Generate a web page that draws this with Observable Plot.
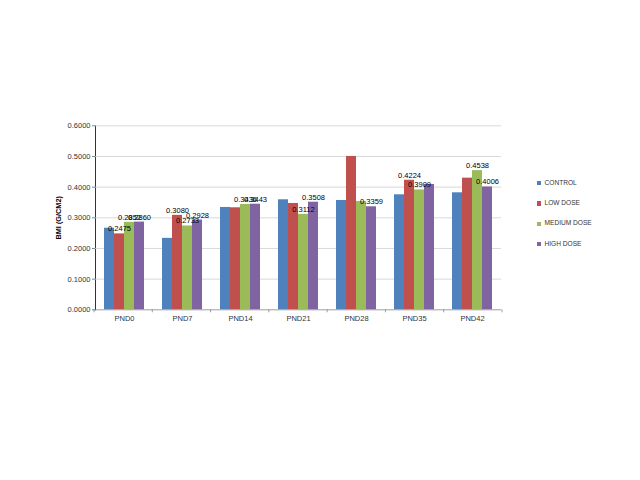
<!DOCTYPE html>
<html>
<head>
<meta charset="utf-8">
<script src="https://cdn.jsdelivr.net/npm/d3@7"></script>
<script src="https://cdn.jsdelivr.net/npm/@observablehq/plot@0.6"></script>
<style>
  html, body { margin: 0; padding: 0; background: #fff; }
  #wrap { position: relative; width: 640px; height: 480px; overflow: hidden; }
  #legend { position: absolute; left: 537px; top: 179px; font-family: "Liberation Sans", Arial, sans-serif; font-size: 6.6px; color: #333; }
  #legend .item { height: 20.2px; display: flex; align-items: flex-start; }
  #legend .sw { width: 4.2px; height: 4.2px; margin-top: 2.3px; margin-right: 3.3px; }
  svg [aria-label="y-axis label"] text { font-weight: bold; fill: #000; font-size: 7.3px; }
</style>
</head>
<body>
<div id="wrap"><div id="chart"></div><div id="legend"></div></div>
<script>
const categories = ["PND0", "PND7", "PND14", "PND21", "PND28", "PND35", "PND42"];
const series = ["CONTROL", "LOW DOSE", "MEDIUM DOSE", "HIGH DOSE"];
const colors = ["#4F81BD", "#C0504D", "#9BBB59", "#8064A2"];
const control    = [0.2660, 0.2330, 0.3337, 0.3587, 0.3565, 0.3750, 0.3815];
const lowDose    = [0.2475, 0.3080, 0.3326, 0.3467, 0.5000, 0.4224, 0.4293];
const mediumDose = [0.2852, 0.2733, 0.3436, 0.3112, 0.3533, 0.3909, 0.4538];
const highDose   = [0.2860, 0.2928, 0.3443, 0.3508, 0.3359, 0.4087, 0.4006];
// which values carry a data label in the reference
const controlLabeled    = [false, false, false, false, false, false, false];
const lowDoseLabeled    = [true, true, false, false, false, true, false];
const mediumDoseLabeled = [true, true, true, true, false, true, true];
const highDoseLabeled   = [true, true, true, true, true, false, true];
const yTicks = [0, 0.1, 0.2, 0.3, 0.4, 0.5, 0.6];
const yTitle = "BMI (G/CM2)";

const valuesBySeries = [control, lowDose, mediumDose, highDose];
const labeledBySeries = [controlLabeled, lowDoseLabeled, mediumDoseLabeled, highDoseLabeled];
const data = [];
categories.forEach((cat, i) => {
  series.forEach((s, j) => {
    data.push({cat, series: s, value: valuesBySeries[j][i], labeled: labeledBySeries[j][i]});
  });
});
const fmt = d3.format(".4f");

const plot = Plot.plot({
  width: 640,
  height: 480,
  marginLeft: 94,
  marginRight: 138,
  marginTop: 125.3,
  marginBottom: 170.7,
  style: {fontFamily: "Liberation Sans, Arial, sans-serif", fontSize: "7.5px", color: "#333", background: "#fff"},
  fx: {domain: categories, padding: 0, label: null, axis: "bottom", tickSize: 0, tickPadding: 6, fontSize: 6.6},
  x: {domain: series, axis: null, paddingInner: 0, paddingOuter: 0.75},
  y: {domain: [0, 0.6], ticks: yTicks, tickFormat: fmt, tickSize: 3, tickPadding: 2,
      line: true, label: yTitle, labelAnchor: "center", labelArrow: "none", labelOffset: 40},
  color: {domain: series, range: colors},
  marks: [
    Plot.ruleY(yTicks.filter(d => d > 0), {stroke: "#cfcfcf", strokeWidth: 0.8}),
    Plot.barY(data, {fx: "cat", x: "series", y: "value", fill: "series"}),
    Plot.ruleY([0], {stroke: "#868686", strokeWidth: 0.8}),
    Plot.text(data.filter(d => d.labeled), {
      fx: "cat", x: "series", y: "value", text: d => fmt(d.value),
      lineAnchor: "bottom", dy: -2.5, fontSize: 7.5, fill: "#000"
    })
  ]
});

document.getElementById("chart").appendChild(plot);

// axis tick marks at category boundaries (from the library's fx scale)
const fxs = plot.scale("fx");
const band = d3.scaleBand().domain(fxs.domain).range(fxs.range).paddingInner(0).paddingOuter(0);
const ys = plot.scale("y");
const y0 = ys.apply ? ys.apply(0) : 309.3;
const svg = d3.select(plot);
const g = svg.append("g").attr("stroke", "#868686").attr("stroke-width", 0.8);
const bounds = categories.map(c => band(c)).concat([band(categories[categories.length - 1]) + band.bandwidth()]);
bounds.forEach(x => {
  g.append("line").attr("x1", x).attr("x2", x).attr("y1", y0).attr("y2", y0 + 3);
});
svg.selectAll('[aria-label="y-axis tick"] path').attr("stroke", "#868686");

// legend
const legend = d3.select("#legend");
series.forEach((s, j) => {
  const it = legend.append("div").attr("class", "item");
  it.append("div").attr("class", "sw").style("background", colors[j]);
  it.append("span").text(s);
});
</script>
</body>
</html>
